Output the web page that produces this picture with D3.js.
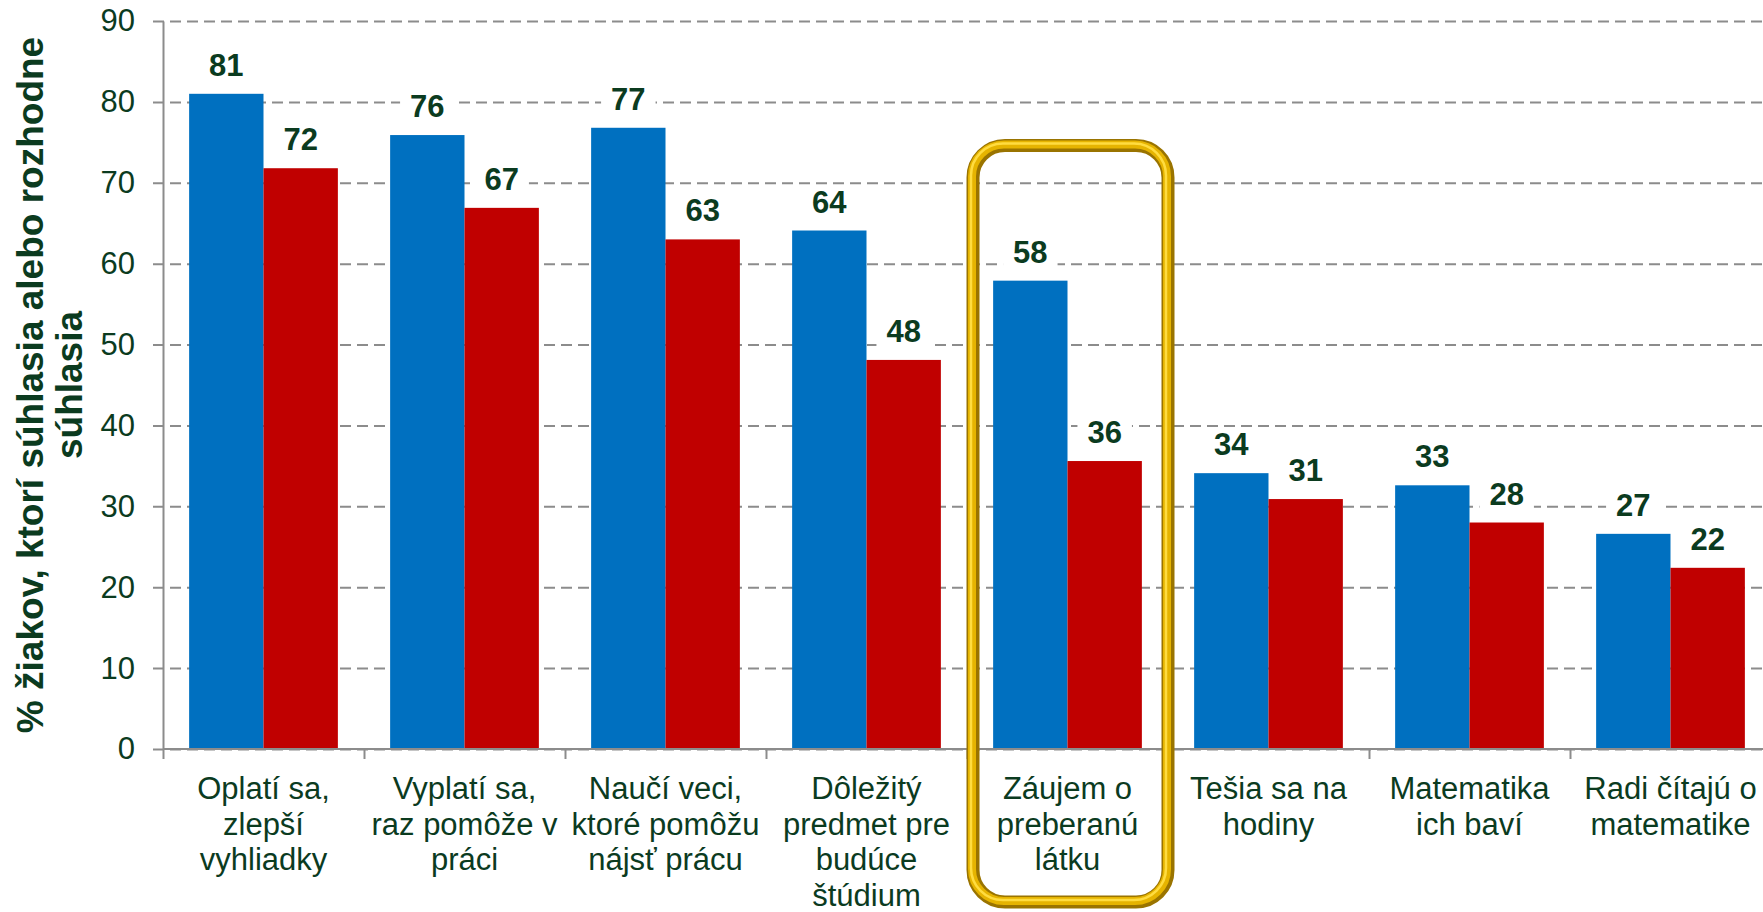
<!DOCTYPE html>
<html>
<head>
<meta charset="utf-8">
<script src="https://cdn.jsdelivr.net/npm/d3@7"></script>
<style>
    html, body { margin: 0; padding: 0; background: #fff; }
    svg { display: block; font-family: "Liberation Sans", Arial, sans-serif; }
</style>
</head>
<body>
<svg id="chart" width="1763" height="912"></svg>
<script>
(function () {
    'use strict';

    // category labels, one array of lines per group
    var categories = [
        ["Oplatí sa,", "zlepší", "vyhliadky"],
        ["Vyplatí sa,", "raz pomôže v", "práci"],
        ["Naučí veci,", "ktoré pomôžu", "nájsť prácu"],
        ["Dôležitý", "predmet pre", "budúce", "štúdium"],
        ["Záujem o", "preberanú", "látku"],
        ["Tešia sa na", "hodiny"],
        ["Matematika", "ich baví"],
        ["Radi čítajú o", "matematike"]
    ];
    var blueValues = [81, 75.9, 76.8, 64.1, 57.9, 34.1, 32.6, 26.6];
    var redValues = [71.8, 66.9, 63, 48.1, 35.6, 30.9, 28, 22.4];
    var yTicks = [0, 10, 20, 30, 40, 50, 60, 70, 80, 90];
    var yTitle = ["% žiakov, ktorí súhlasia alebo rozhodne", "súhlasia"];
    var highlightIndex = 4;
    var highlightTop = 74.6;

    var textColor = "#0b3b1f";
    var gridColor = "#8c8c8c";
    var colors = ["#0070c0", "#c00000"];

    var svg = d3.select("svg#chart"),
        left = 163,
        right = 1763,
        top = 21,
        bottom = 749;

    var x0 = d3.scaleBand()
        .domain(d3.range(categories.length))
        .range([left, left + categories.length * 201])
        .paddingInner(0.26)
        .paddingOuter(0.13);

    var x1 = d3.scaleBand()
        .domain([0, 1])
        .range([0, x0.bandwidth()]);

    var y = d3.scaleLinear()
        .domain([0, 90])
        .range([bottom, top]);

    var groups = categories.map(function (c, i) {
        return {index: i, values: [blueValues[i], redValues[i]]};
    });

    drawGrid();
    drawBars();
    drawAxes();
    drawLabels();
    drawHighlight();

    function drawGrid() {
        var grid = svg.append("g")
            .attr("transform", "translate(" + left + ",0)")
            .call(d3.axisLeft(y).tickValues(yTicks).tickSize(-(right - left)).tickFormat(""));

        grid.select(".domain").remove();
        grid.selectAll(".tick line")
            .attr("x1", -10)
            .attr("stroke", gridColor)
            .attr("stroke-width", 2)
            .attr("stroke-dasharray", "11,6");
    }

    function drawBars() {
        var g = svg.append("g").selectAll("g")
            .data(groups)
            .enter().append("g")
            .attr("transform", function (d) {
                return "translate(" + x0(d.index) + ",0)";
            });

        g.selectAll("rect")
            .data(function (d) { return d.values; })
            .enter().append("rect")
            .attr("x", function (d, i) { return x1(i); })
            .attr("y", function (d) { return y(d); })
            .attr("width", x1.bandwidth())
            .attr("height", function (d) { return y(0) - y(d); })
            .attr("fill", function (d, i) { return colors[i]; });
    }

    function drawAxes() {
        var yAxis = svg.append("g")
            .attr("transform", "translate(" + left + ",0)")
            .call(d3.axisLeft(y).tickValues(yTicks).tickSize(0).tickPadding(28));
        yAxis.select(".domain").attr("stroke", gridColor).attr("stroke-width", 2);
        yAxis.selectAll("text")
            .attr("fill", textColor)
            .style("font-size", "31px")
            .style("font-family", "'Liberation Sans', Arial, sans-serif");

        var tickScale = d3.scaleLinear()
            .domain([0, categories.length])
            .range(x0.range());
        var xAxis = svg.append("g")
            .attr("transform", "translate(0," + bottom + ")")
            .call(d3.axisBottom(tickScale).ticks(categories.length).tickSize(10).tickSizeOuter(0).tickFormat(""));
        xAxis.select(".domain")
            .attr("d", "M" + left + ",0H" + right)
            .attr("stroke", gridColor)
            .attr("stroke-width", 2);
        xAxis.selectAll(".tick line").attr("stroke", gridColor).attr("stroke-width", 2);

        var cats = svg.append("g").selectAll("text")
            .data(categories)
            .enter().append("text")
            .attr("x", function (d, i) { return x0(i) + x0.bandwidth() / 2; })
            .attr("y", 799)
            .attr("text-anchor", "middle")
            .attr("fill", textColor)
            .style("font-size", "31px");
        cats.selectAll("tspan")
            .data(function (d) { return d; })
            .enter().append("tspan")
            .attr("x", function () { return this.parentNode.getAttribute("x"); })
            .attr("dy", function (d, i) { return i === 0 ? 0 : 35.7; })
            .text(function (d) { return d; });

        svg.append("g").selectAll("text")
            .data(yTitle)
            .enter().append("text")
            .attr("transform", function (d, i) {
                return "translate(" + (43 + i * 39) + "," + (top + bottom) / 2 + ") rotate(-90)";
            })
            .attr("text-anchor", "middle")
            .attr("fill", textColor)
            .style("font-size", "37px")
            .style("font-weight", "bold")
            .text(function (d) { return d; });
    }

    function drawLabels() {
        var items = [];
        groups.forEach(function (gr) {
            gr.values.forEach(function (v, i) {
                items.push({x: x0(gr.index) + x1(i) + x1.bandwidth() / 2, v: v});
            });
        });

        var lab = svg.append("g").selectAll("g")
            .data(items)
            .enter().append("g");

        var bg = lab.append("rect").attr("fill", "#fff");

        lab.append("text")
            .attr("x", function (d) { return d.x; })
            .attr("y", function (d) { return y(d.v) - 18; })
            .attr("text-anchor", "middle")
            .attr("fill", textColor)
            .style("font-size", "31px")
            .style("font-weight", "bold")
            .text(function (d) { return d3.format(".0f")(d.v); });

        bg.each(function (d) {
            var b = this.parentNode.querySelector("text").getBBox();
            d3.select(this)
                .attr("x", b.x - 10)
                .attr("y", b.y + 2)
                .attr("width", b.width + 20)
                .attr("height", b.height + 2);
        });
    }

    function drawHighlight() {
        var hx = x0(highlightIndex) - x0.step() * x0.paddingInner() / 2 + 6,
            hw = x0.step() - 6,
            hy = y(highlightTop),
            hh = 902 - hy;

        var h = svg.append("g").attr("fill", "none");
        h.append("rect")
            .attr("x", hx).attr("y", hy).attr("width", hw).attr("height", hh)
            .attr("rx", 32)
            .attr("stroke", "#9a7400")
            .attr("stroke-width", 13);
        h.append("rect")
            .attr("x", hx - 1).attr("y", hy - 1).attr("width", hw).attr("height", hh)
            .attr("rx", 32)
            .attr("stroke", "#e6b400")
            .attr("stroke-width", 8);
        h.append("rect")
            .attr("x", hx - 2).attr("y", hy - 2).attr("width", hw).attr("height", hh)
            .attr("rx", 32)
            .attr("stroke", "#ffdc40")
            .attr("stroke-width", 2.5);
    }

})();
</script>
</body>
</html>
